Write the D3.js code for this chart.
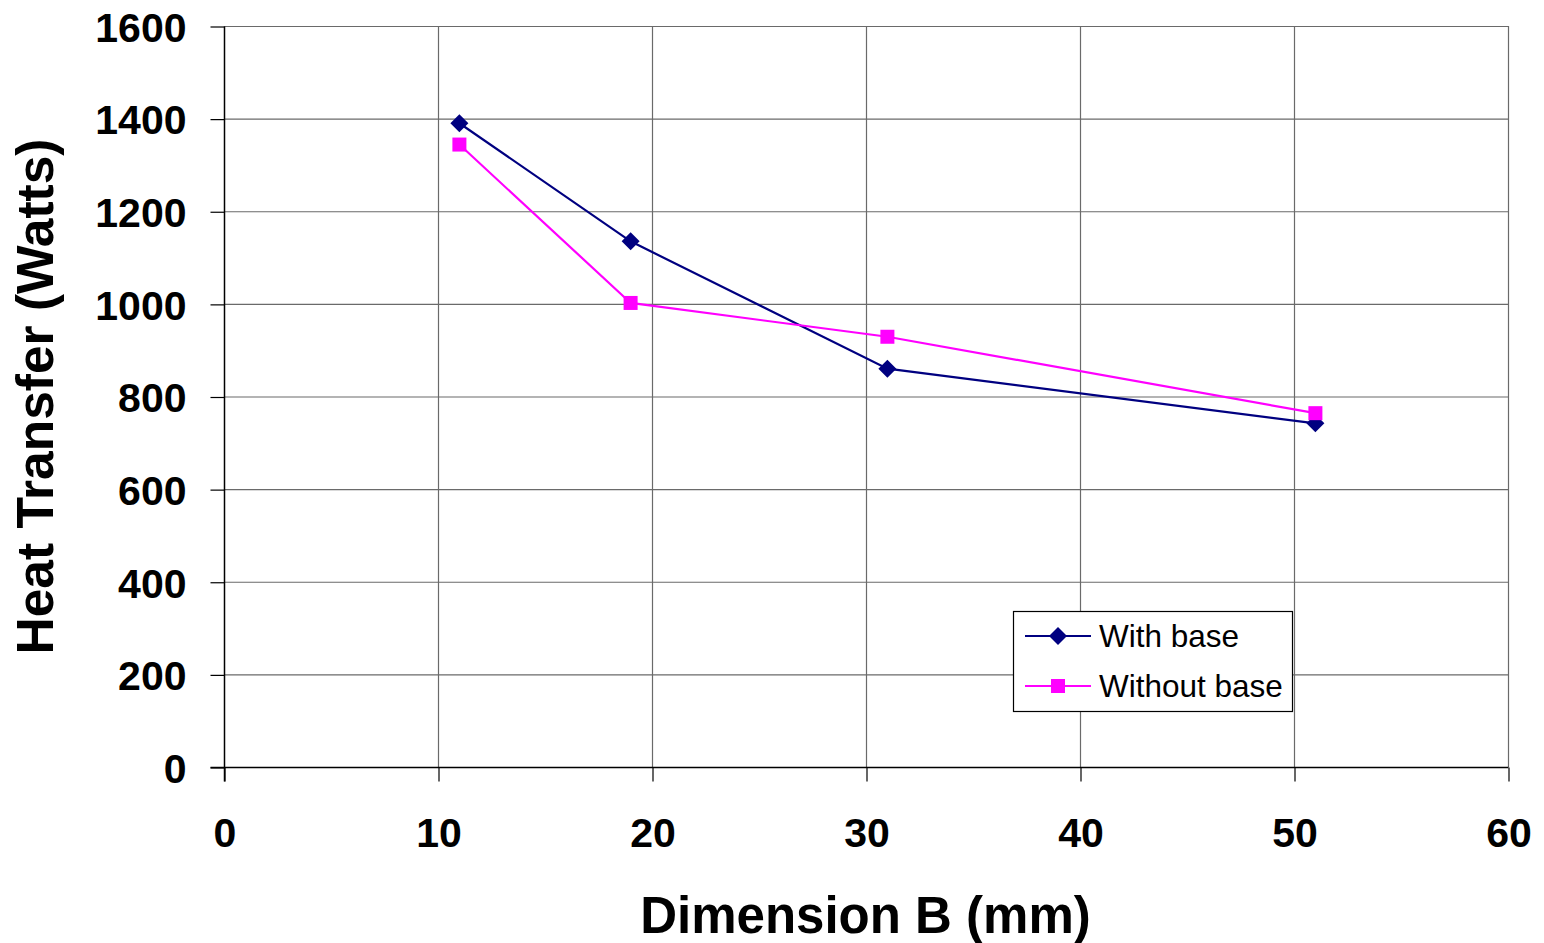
<!DOCTYPE html>
<html><head><meta charset="utf-8">
<script src="https://cdn.jsdelivr.net/npm/d3@7"></script>
<style>body{margin:0;background:#fff}svg{display:block}text{font-family:"Liberation Sans",Arial,sans-serif}</style>
</head><body>
<svg id="c" width="1544" height="943"></svg>
<script>
const xVals = [11, 19, 31, 51];
const withBase = [1390, 1135, 860, 742];
const withoutBase = [1344, 1002, 929, 764];
const xTicks = [0, 10, 20, 30, 40, 50, 60];
const yTicks = [0, 200, 400, 600, 800, 1000, 1200, 1400, 1600];
const seriesNames = ["With base", "Without base"];

const svg = d3.select("#c");
const L = 224, R = 1508, T = 26, B = 767;
const x = d3.scaleLinear().domain([0, 60]).range([L, R]);
const y = d3.scaleLinear().domain([0, 1600]).range([B, T]);

// gridlines
svg.append("g").selectAll("line").data(yTicks.filter(d => d > 0)).join("line")
  .attr("x1", L).attr("x2", R).attr("y1", d => y(d)+0.5).attr("y2", d => y(d)+0.5)
  .attr("stroke", "#6a6a6a").attr("stroke-width", 1.2);
svg.append("g").selectAll("line").data(xTicks.filter(d => d > 0)).join("line")
  .attr("y1", T).attr("y2", B).attr("x1", d => x(d)+0.5).attr("x2", d => x(d)+0.5)
  .attr("stroke", "#6a6a6a").attr("stroke-width", 1.2);

// axes
const xAxis = d3.axisBottom(x).tickValues(xTicks).tickFormat(d3.format("d")).tickSize(14).tickPadding(36);
const yAxis = d3.axisLeft(y).tickValues(yTicks).tickFormat(d3.format("d")).tickSize(14).tickPadding(24);
const gx = svg.append("g").attr("transform", `translate(0.5,${B+0.5})`).call(xAxis);
const gy = svg.append("g").attr("transform", `translate(${L+0.5},0.5)`).call(yAxis);
[gx, gy].forEach(g => {
  g.select(".domain").attr("stroke", "#000").attr("stroke-width", 1.5)
    .attr("d", g === gx ? `M${L-14},0H${R}` : `M0,${B+14}V${T}`);
  g.selectAll(".tick line").attr("stroke", "#000").attr("stroke-width", 1.2);
  g.selectAll("text").attr("fill", "#000").style("font-size", "41px").style("font-weight", "bold")
    .style("font-family", '"Liberation Sans", Arial, sans-serif');
});
gx.selectAll("text").attr("dy", "0.71em");
gy.selectAll("text").attr("dy", "0.36em");

// lines
const colors = ["#000080", "#FF00FF"];
const data = [withBase, withoutBase];
const line = d3.line().x((d, i) => x(xVals[i])).y(d => y(d));
data.forEach((s, k) => {
  svg.append("path").datum(s).attr("d", line).attr("fill", "none")
    .attr("stroke", colors[k]).attr("stroke-width", 2.2);
});
function marker(g, k, cx, cy) {
  if (k === 0) {
    g.append("path").attr("d", `M${cx},${cy-9}L${cx+9},${cy}L${cx},${cy+9}L${cx-9},${cy}Z`).attr("fill", colors[0]);
  } else {
    g.append("rect").attr("x", cx-7).attr("y", cy-7).attr("width", 14).attr("height", 14).attr("fill", colors[1]);
  }
}
data.forEach((s, k) => {
  const g = svg.append("g");
  s.forEach((v, i) => marker(g, k, x(xVals[i]), y(v)));
});

// legend
const lg = svg.append("g");
lg.append("rect").attr("x", 1013.5).attr("y", 611.5).attr("width", 279).attr("height", 100)
  .attr("fill", "#fff").attr("stroke", "#000").attr("stroke-width", 1.2);
seriesNames.forEach((n, k) => {
  const cy = 636 + k * 50;
  lg.append("line").attr("x1", 1025).attr("x2", 1091).attr("y1", cy).attr("y2", cy)
    .attr("stroke", colors[k]).attr("stroke-width", 2.2);
  marker(lg, k, 1058, cy);
  lg.append("text").attr("x", 1099).attr("y", cy).attr("dy", "0.36em")
    .style("font-size", "31.5px").attr("fill", "#000").text(n);
});

// axis titles
svg.append("text").attr("x", 865.5).attr("y", 933).attr("text-anchor", "middle")
  .style("font-size", "51px").style("font-weight", "bold").text("Dimension B (mm)");
svg.append("text").attr("transform", `translate(53,${(140+653)/2}) rotate(-90)`).attr("text-anchor", "middle")
  .style("font-size", "51.5px").style("font-weight", "bold").text("Heat Transfer (Watts)");
</script>
</body></html>
